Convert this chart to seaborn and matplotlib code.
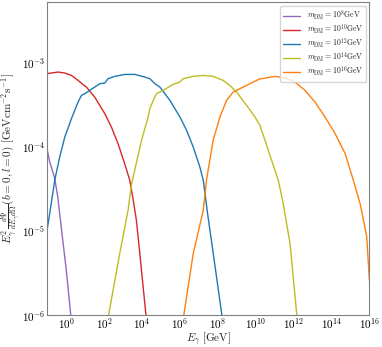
import numpy as np
import pandas as pd
import matplotlib
matplotlib.use("agg")
import matplotlib.pyplot as plt
import matplotlib.ticker as mticker
import seaborn as sns

# values, as log10(E/GeV) and log10(flux)
masses = ["8", "10", "12", "14", "16"]
colors = ["tab:purple", "tab:red", "tab:blue", "tab:olive", "tab:orange"]

purple_logE = [-1.0, -0.88, -0.61, -0.45, -0.35, 0.0, 0.23, 0.35]
purple_logF = [-4.05, -4.18, -4.38, -4.60, -4.80, -5.47, -5.99, -6.4]

red_logE = [-1.0, -0.44, -0.08, 0.27, 0.62, 0.88, 1.06, 1.50, 2.03, 2.38, 2.73, 3.08, 3.35, 3.52,
            3.70, 3.88, 4.20, 4.35]
red_logF = [-3.137, -3.118, -3.13, -3.158, -3.217, -3.265, -3.296, -3.415, -3.611, -3.77, -3.967, -4.204, -4.402, -4.62,
            -4.876, -5.27, -5.99, -6.5]

blue_logE = [-1.02, -0.88, -0.61, -0.35, -0.08, 0.27, 0.62, 0.80, 0.97, 1.24, 1.50, 1.77, 2.03, 2.20, 2.56,
             3.09, 3.62, 4.15, 4.41, 4.68, 4.94, 5.47, 6.0, 6.35, 6.70, 7.05, 7.23, 7.46, 7.75, 8.20, 8.35]
blue_logF = [-5.0, -4.8, -4.40, -4.126, -3.889, -3.671, -3.474, -3.395, -3.374, -3.335, -3.296, -3.256, -3.249, -3.197, -3.169,
             -3.146, -3.146, -3.178, -3.197, -3.256, -3.296, -3.454, -3.652, -3.809, -4.007, -4.244, -4.40, -4.80, -5.26, -5.98, -6.5]

olive_logE = [2.05, 2.24, 2.82, 3.26, 3.44, 3.97, 4.32, 4.41, 4.67, 4.76, 5.11, 5.64, 5.99, 6.17, 6.70,
              7.23, 7.75, 8.28, 8.63, 8.99, 9.52, 9.96, 10.22, 10.49, 10.84, 11.19, 11.45, 11.81, 12.16, 12.3]
olive_logF = [-6.4, -5.99, -5.27, -4.757, -4.45, -3.928, -3.652, -3.55, -3.415, -3.374, -3.335, -3.264, -3.237, -3.197, -3.169,
              -3.158, -3.169, -3.217, -3.276, -3.355, -3.513, -3.652, -3.75, -3.928, -4.165, -4.40, -4.678, -5.152, -5.98, -6.5]

orange_logE = [6.0, 6.21, 6.70, 7.23, 7.40, 7.75, 8.11, 8.46, 8.81, 9.17, 9.52, 9.87, 10.05, 10.22, 10.31,
               11.01, 11.54, 12.07, 12.60, 13.13, 13.66, 14.19, 14.72, 15.15, 15.51, 15.86, 16.0]
orange_logF = [-6.4, -5.99, -5.27, -4.757, -4.40, -3.928, -3.652, -3.454, -3.355, -3.315, -3.276, -3.237, -3.217, -3.197, -3.197,
               -3.169, -3.185, -3.237, -3.335, -3.474, -3.652, -3.848, -4.085, -4.40, -4.678, -5.07, -5.59]

series_logE = [purple_logE, red_logE, blue_logE, olive_logE, orange_logE]
series_logF = [purple_logF, red_logF, blue_logF, olive_logF, orange_logF]

sns.set_style("white")
plt.rcParams.update({
    "mathtext.fontset": "cm",
    "font.family": "serif",
    "font.serif": ["cmr10", "DejaVu Serif"],
    "axes.formatter.use_mathtext": True,
    "axes.unicode_minus": False,
})

labels = [r"$m_{\mathrm{DM}} = 10^{%s}\mathrm{GeV}$" % m for m in masses]
frames = []
for lab, le, lf in zip(labels, series_logE, series_logF):
    frames.append(pd.DataFrame({"E": np.power(10.0, le), "flux": np.power(10.0, lf), "mass": lab}))
df = pd.concat(frames, ignore_index=True)

fig = plt.figure(figsize=(3.82, 3.47), dpi=100)
ax = fig.add_axes([0.124, 0.092, 0.843, 0.901])

sns.lineplot(data=df, x="E", y="flux", hue="mass", hue_order=labels, palette=colors,
             sort=False, estimator=None, linewidth=1.0, ax=ax)

ax.set_xscale("log")
ax.set_yscale("log")
ax.set_xlim(1e-1, 1e16)
ax.set_ylim(1e-6, 5.1e-3)

ax.set_xticks([10.0 ** k for k in range(0, 17, 2)])
ax.xaxis.set_minor_locator(mticker.LogLocator(base=10, subs=np.arange(1, 10), numticks=200))
ax.yaxis.set_minor_locator(mticker.LogLocator(base=10, subs=np.arange(2, 10), numticks=200))
ax.xaxis.set_minor_formatter(mticker.NullFormatter())
ax.yaxis.set_minor_formatter(mticker.NullFormatter())

ax.tick_params(which="both", direction="in", top=False, right=False, colors="black",
               labelsize=8, pad=1.5)
ax.tick_params(axis="x", pad=1)
ax.tick_params(which="major", length=3.5, width=0.7)
ax.tick_params(which="minor", length=2, width=0.6)
for s in ax.spines.values():
    s.set_color("#808080")
    s.set_linewidth(0.8)

ax.set_xlabel(r"$E_\gamma\ [\mathrm{GeV}]$", fontsize=8)
ax.set_ylabel(r"$E_\gamma^2\,\frac{d\Phi}{dE_\gamma d\Omega}(b=0,l=0)\ [\mathrm{GeV cm^{-2} s^{-1}}]$",
              fontsize=8)
ax.xaxis.set_label_coords(0.5, -0.05)
ax.yaxis.set_label_coords(-0.076, 0.5)

ax.legend(loc="upper right", fontsize=5.6, frameon=True, fancybox=True, edgecolor="#cccccc",
          framealpha=0.8, handlelength=2.2, labelspacing=0.0, borderaxespad=0.4)

fig.savefig("out.png", dpi=100)
